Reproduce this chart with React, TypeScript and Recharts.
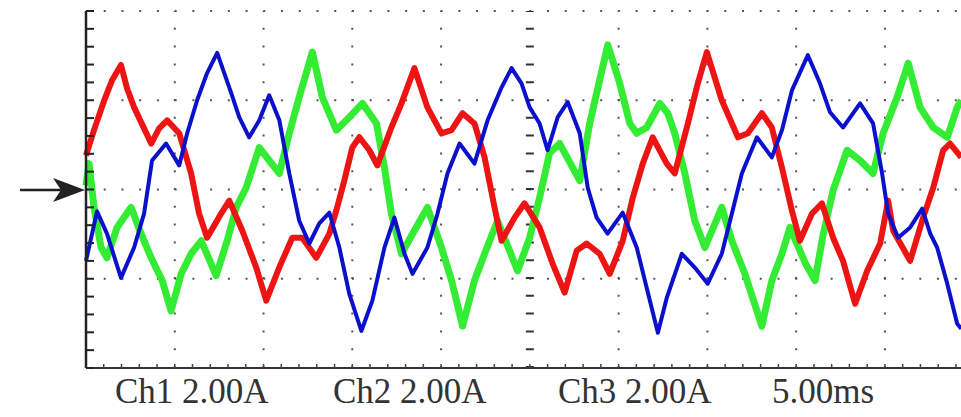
import React from 'react';
import { LineChart, Line, XAxis, YAxis, ReferenceLine } from 'recharts';

// time in ms (5 ms/div), current in A (2 A/div)
const redT = [0, 0.45, 1.02, 1.47, 1.97, 2.31, 2.71, 3.27, 3.67, 4.12, 4.57, 5.25, 5.92, 6.37, 6.82, 7.22, 7.61, 8.07, 8.8, 9.59, 10.15, 10.88, 11.62, 12.18, 12.97, 13.71, 14.1, 14.55, 15.0, 15.4, 15.96, 16.41, 17.2, 17.77, 18.5, 19.23, 20.02, 20.59, 21.21, 21.88, 22.45, 23.01, 23.41, 24.14, 24.7, 25.55, 26.28, 26.96, 27.64, 28.2, 28.93, 29.5, 30.23, 30.8, 31.36, 31.92, 32.71, 33.16, 33.9, 34.46, 34.97, 35.81, 36.72, 37.28, 38.07, 38.63, 39.2, 39.76, 40.21, 40.89, 41.45, 42.08, 42.64, 43.32, 44.0, 44.73, 45.18, 45.46, 46.42, 47.15, 47.72, 48.28, 48.67, 49.3];
const redA = [0.76, 1.33, 1.99, 2.45, 2.79, 2.27, 1.84, 1.37, 1.03, 1.37, 1.55, 1.26, 0.36, -0.54, -1.08, -0.81, -0.54, -0.25, -0.92, -1.75, -2.49, -1.75, -1.08, -1.08, -1.53, -0.99, -0.47, 0.2, 0.94, 1.17, 0.88, 0.54, 1.39, 1.93, 2.72, 1.84, 1.26, 1.33, 1.71, 1.48, 0.72, -0.4, -1.15, -0.63, -0.31, -0.85, -1.66, -2.31, -1.37, -1.21, -1.44, -1.89, -1.15, -0.18, 0.58, 1.17, 0.58, 0.36, 1.48, 2.38, 3.08, 2.0, 1.17, 1.26, 1.71, 1.39, 0.49, -0.47, -1.15, -0.54, -0.31, -1.08, -1.6, -2.56, -1.82, -1.21, -0.25, -0.92, -1.6, -0.63, 0.04, 0.88, 1.03, 0.72];

const blueT = [0, 0.62, 1.18, 1.97, 2.71, 3.27, 3.72, 4.51, 5.25, 5.7, 6.26, 6.82, 7.39, 8.18, 8.63, 9.19, 9.76, 10.32, 10.89, 11.45, 12.01, 12.58, 13.14, 13.71, 14.27, 14.83, 15.51, 16.13, 16.81, 17.37, 17.94, 18.39, 19.23, 19.8, 20.36, 21.04, 21.88, 22.62, 23.41, 23.97, 24.53, 24.99, 25.55, 26.0, 26.57, 27.13, 27.81, 28.26, 28.76, 29.38, 30.23, 31.02, 31.58, 32.21, 32.71, 33.56, 34.29, 35.02, 35.81, 36.38, 36.94, 37.79, 38.63, 39.2, 39.76, 40.66, 41.34, 41.91, 42.64, 43.6, 44.33, 44.84, 45.18, 45.74, 46.42, 47.1, 47.55, 47.94, 48.51, 49.07, 49.3];
const blueA = [-1.6, -0.49, -0.99, -1.98, -1.3, -0.54, 0.65, 1.03, 0.54, 1.26, 2.0, 2.61, 3.06, 2.16, 1.62, 1.17, 1.55, 2.11, 1.55, 0.36, -0.7, -1.21, -0.76, -0.52, -1.3, -2.34, -3.17, -2.49, -1.3, -0.63, -1.44, -1.89, -1.3, -0.54, 0.36, 1.03, 0.58, 1.55, 2.29, 2.72, 2.38, 1.84, 1.48, 0.88, 1.62, 1.96, 1.26, 0.04, -0.63, -0.99, -0.52, -1.3, -2.2, -3.21, -2.43, -1.44, -1.75, -2.11, -1.44, -0.54, 0.36, 1.17, 0.72, 1.33, 2.22, 3.01, 2.38, 1.73, 1.39, 1.93, 1.48, 0.36, -0.54, -1.08, -0.85, -0.43, -0.99, -1.3, -2.11, -3.01, -3.12];

const greenT = [0, 0.17, 0.45, 0.85, 1.18, 1.75, 2.54, 3.1, 3.67, 4.29, 4.79, 5.36, 5.92, 6.49, 7.33, 7.95, 8.46, 9.02, 9.76, 10.32, 10.89, 11.45, 12.01, 12.75, 13.31, 14.1, 14.66, 15.57, 16.36, 16.81, 17.2, 17.77, 18.5, 19.23, 20.02, 20.59, 21.21, 21.88, 22.45, 23.18, 24.31, 24.99, 25.55, 26.11, 26.68, 27.41, 27.81, 28.37, 28.93, 29.39, 30.06, 30.63, 31.02, 31.58, 32.32, 32.77, 33.16, 33.73, 34.29, 34.86, 35.81, 36.38, 37.11, 38.07, 38.63, 39.2, 39.65, 40.5, 41.06, 41.51, 42.08, 42.87, 43.6, 44.33, 44.9, 45.69, 46.31, 46.98, 47.72, 48.51, 49.07, 49.3];
const greenA = [0.09, 0.58, -0.4, -1.3, -1.53, -0.85, -0.4, -0.99, -1.53, -2.04, -2.72, -1.89, -1.44, -1.15, -1.93, -1.15, -0.4, 0.04, 0.94, 0.65, 0.36, 1.26, 2.07, 3.08, 2.07, 1.33, 1.55, 1.93, 1.48, 0.49, -0.54, -1.44, -0.92, -0.4, -1.3, -2.04, -3.06, -2.04, -1.44, -0.7, -1.82, -1.08, -0.18, 0.81, 1.03, 0.49, 0.2, 1.48, 2.45, 3.24, 2.38, 1.48, 1.26, 1.39, 1.93, 1.71, 1.26, 0.36, -0.7, -1.3, -0.4, -1.15, -1.89, -3.06, -2.04, -1.44, -0.85, -1.64, -2.04, -1.03, -0.02, 0.88, 0.65, 0.36, 1.26, 2.07, 2.83, 1.84, 1.39, 1.17, 1.84, 2.0];

// graticule
const divMs = [5, 10, 15, 20, 30, 35, 40, 45];
const centerMs = 25;
const divA = [4, 2, 0, -2];
const minorMs = Array.from({ length: 51 }, (_, i) => i);
const minorA = Array.from({ length: 21 }, (_, i) => +(i * 0.4 - 4).toFixed(1));

const labels = ['Ch1 2.00A', 'Ch2 2.00A', 'Ch3 2.00A', '5.00ms'];
const labelX = [115, 333, 558, 772];

const toRows = (t: number[], a: number[]) => t.map((x, i) => ({ t: x, v: a[i] }));

const red = toRows(redT, redA);
const blue = toRows(blueT, blueA);
const green = toRows(greenT, greenA);

const blank = () => '';

export default function App() {
  return (
    <div
      style={{
        position: 'fixed',
        left: 0,
        top: 0,
        width: 961,
        height: 417,
        overflow: 'hidden',
        background: '#fff',
      }}
    >
      <LineChart width={1000} height={417} margin={{ top: 11, right: 26.3, bottom: 49, left: 86 }}>
        <XAxis
          type="number"
          dataKey="t"
          domain={[0, 50]}
          ticks={minorMs}
          interval={0}
          tickFormatter={blank}
          tick={{ fontSize: 1 }}
          mirror
          height={1}
          tickSize={4}
          axisLine={{ stroke: '#333', strokeWidth: 2 }}
          tickLine={{ stroke: '#444', strokeWidth: 1.5 }}
        />
        <YAxis
          type="number"
          domain={[-4, 4]}
          ticks={minorA}
          interval={0}
          tickFormatter={blank}
          tick={{ fontSize: 1 }}
          mirror
          width={1}
          tickSize={8}
          axisLine={{ stroke: '#222', strokeWidth: 2.5 }}
          tickLine={{ stroke: '#222', strokeWidth: 2 }}
        />
        {divA.map((v) => (
          <ReferenceLine key={'h' + v} y={v} stroke="#555" strokeWidth={2} strokeDasharray="2 15.73" />
        ))}
        {divMs.map((v) => (
          <ReferenceLine key={'v' + v} x={v} stroke="#555" strokeWidth={2} strokeDasharray="2 15.8" />
        ))}
        <ReferenceLine x={centerMs} stroke="#333" strokeWidth={8} strokeDasharray="2 15.8" />
        <Line data={green} dataKey="v" type="linear" stroke="#35ec35" strokeWidth={7} dot={false} isAnimationActive={false} strokeLinejoin="round" />
        <Line data={red} dataKey="v" type="linear" stroke="#ee1414" strokeWidth={6} dot={false} isAnimationActive={false} strokeLinejoin="round" />
        <Line data={blue} dataKey="v" type="linear" stroke="#0a10cc" strokeWidth={4} dot={false} isAnimationActive={false} strokeLinejoin="round" />
      </LineChart>
      <svg
        width={961}
        height={417}
        style={{ position: 'absolute', left: 0, top: 0, pointerEvents: 'none' }}
      >
        <line x1={20} y1={190} x2={62} y2={190} stroke="#222" strokeWidth={2.5} />
        <polygon points="85,190 53,178 61,190 53,202" fill="#222" />
        {labels.map((s, i) => (
          <text
            key={s}
            x={labelX[i]}
            y={403}
            fontFamily="'Liberation Serif', 'Times New Roman', serif"
            fontSize={35}
            fill="#333"
          >
            {s}
          </text>
        ))}
      </svg>
    </div>
  );
}
